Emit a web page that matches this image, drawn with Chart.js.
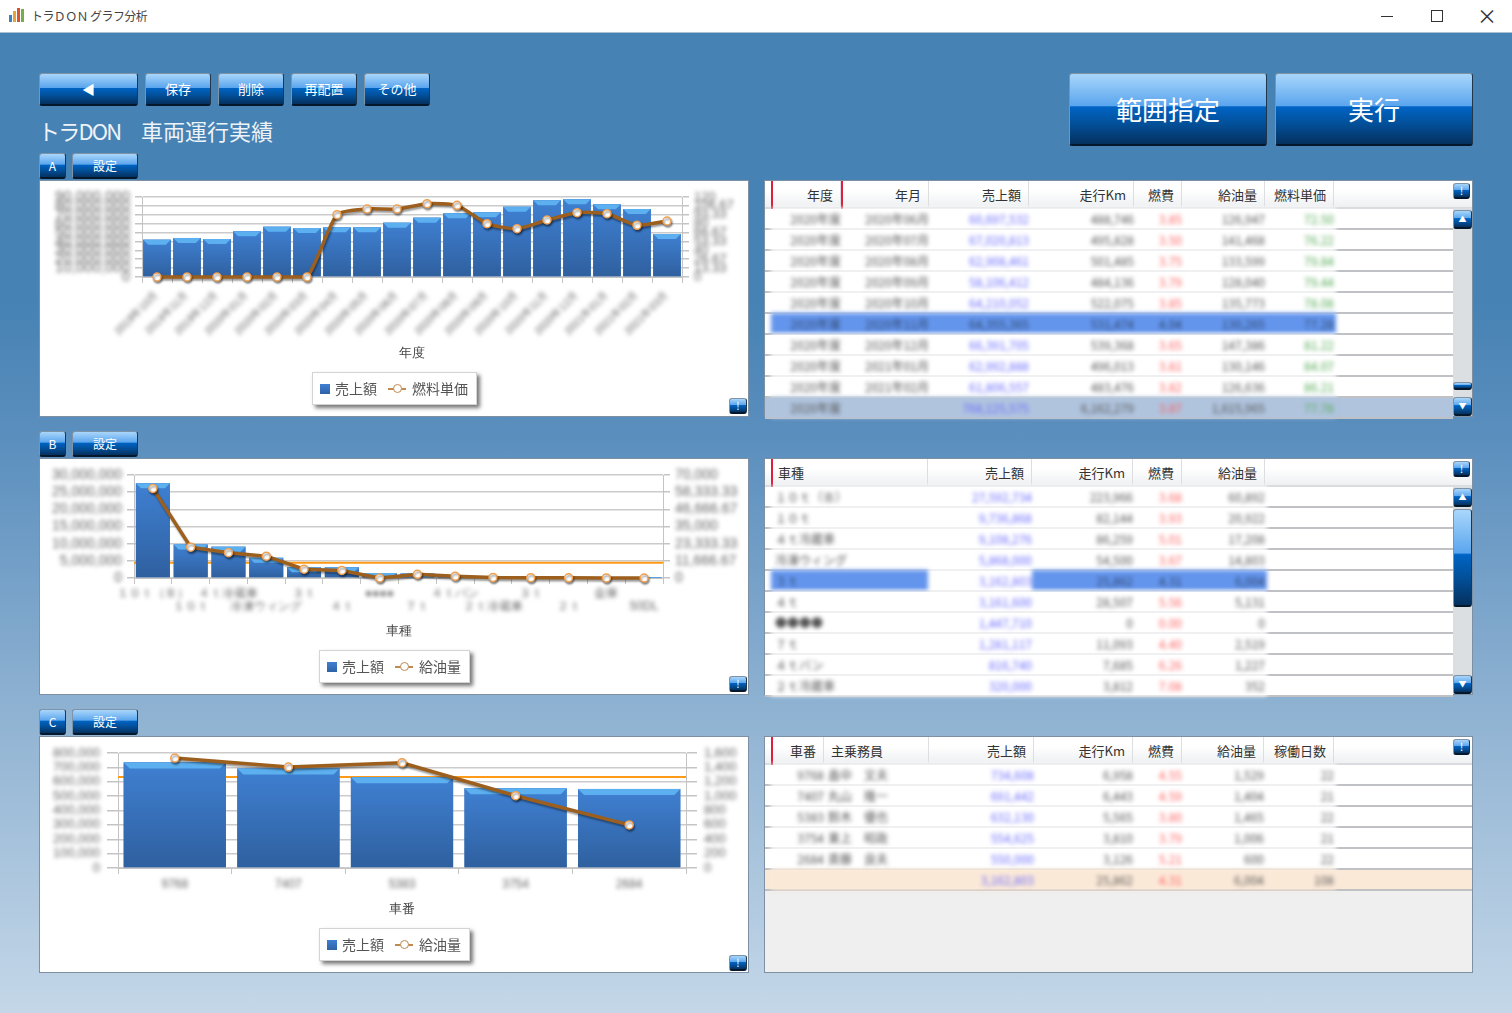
<!DOCTYPE html>
<html lang="ja">
<head>
<meta charset="utf-8">
<title>トラＤＯＮ グラフ分析</title>
<script src="https://cdn.jsdelivr.net/npm/chart.js@4/dist/chart.umd.min.js"></script>
<style>
html,body{margin:0;padding:0;width:1512px;height:1013px;overflow:hidden;font-family:"Noto Sans CJK JP","Noto Sans",sans-serif}
body{position:relative;background:linear-gradient(#4682b4 33px,#4682b4 300px,#5b8fbe 440px,#8fb2d2 710px,#c4d7e8 1013px)}
.abs{position:absolute;box-sizing:border-box}
#titlebar{left:0;top:0;width:1512px;height:33px;background:#fff;color:#444;font-size:12px;line-height:32px;padding-left:31px;letter-spacing:-.6px;border-bottom:1px solid #a9c0d6}
.btn{color:#fff;text-align:center;border-radius:3px;border:1px solid #7f93a6;border-bottom:2px solid #04172b;border-right-color:#20364c;
  background:linear-gradient(#a9d6fb,#5ba6ee 45%,#0064c4 47%,#024f98 72%,#05305e)}
.panel{background:#fff;border:1px solid #7e90a3}
.legend{background:#fff;border:1px solid #d4d4d4;box-shadow:3px 3px 4px #777;color:#555;font-size:14px;white-space:nowrap}
.hdr{background:linear-gradient(#fff,#fff 35%,#eef0f2);border-bottom:2px solid #d9dbde}
.hcell{font-size:13px;color:#333;white-space:nowrap;line-height:28px}
.rowline{background:#bfc1c4;height:2px}
.cell{font-size:12px;white-space:nowrap;line-height:21px;height:20px}
</style>
</head>
<body>
<div class="abs" id="titlebar">トラＤＯＮ グラフ分析</div>
<script>
// ---- chart A
const labelsA = ['2019年10月','2019年11月','2019年12月','2020年01月','2020年02月','2020年03月','2020年04月','2020年05月','2020年06月','2020年07月','2020年08月','2020年09月','2020年10月','2020年11月','2020年12月','2021年01月','2021年02月','2021年03月']
const salesA = [42000000,43900000,42750000,51400000,56600000,55100000,55900000,55900000,61100000,66750000,71600000,72750000,79100000,86250000,87400000,81750000,76500000,48400000]
const priceA = [0,0,0,0,0,0,93.5,102,102,110,107.5,80,72.5,85.5,96.5,95,77.5,84]
const leftTicksA = ['0','10,000,000','20,000,000','30,000,000','40,000,000','50,000,000','60,000,000','70,000,000','80,000,000','90,000,000']
const rightTicksA = ['0','13.33','26.67','40','53.33','66.67','80','93.33','106.67','120']

// ---- chart B
const labelsB = ['１０ｔ（Ｂ）','１０ｔ','４ｔ冷蔵車','冷凍ウィング','３ｔ','４ｔ','●●●●','７ｔ','４ｔバン','２ｔ冷蔵車','３ｔ','２ｔ','金庫','50DL']
const salesB = [27592734,9736868,9108276,5868000,3162803,3161600,1447710,1281117,816740,320000,250000,180000,120000,90000]
const fuelB = [60892,20922,17208,14803,6004,5131,0,2519,1227,352,200,120,60,0]
const leftTicksB = ['0','5,000,000','10,000,000','15,000,000','20,000,000','25,000,000','30,000,000']
const rightTicksB = ['0','11,666.67','23,333.33','35,000','46,666.67','58,333.33','70,000']
const averageB = 4450000

// ---- chart C
const labelsC = ['9768','7407','5383','3754','2684']
const salesC = [734608,691442,632130,554625,550000]
const fuelC = [1529,1404,1465,1006,600]
const leftTicksC = ['0','100,000','200,000','300,000','400,000','500,000','600,000','700,000','800,000']
const rightTicksC = ['0','200','400','600','800','1,000','1,200','1,400','1,600']
const averageC = 632561

// ---- tables
const headersA = ['年度','年月','売上額','走行Km','燃費','給油量','燃料単価']
const rowsA = [
  ['2020年度','2020年06月','60,697,532','488,746','3.85','126,947','72.50'],
  ['2020年度','2020年07月','67,020,813','495,828','3.50','141,468','76.22'],
  ['2020年度','2020年08月','62,908,461','501,485','3.75','133,599','79.84'],
  ['2020年度','2020年09月','58,106,412','484,136','3.79','128,040','79.44'],
  ['2020年度','2020年10月','64,210,052','522,075','3.85','135,773','78.08'],
  ['2020年度','2020年11月','64,355,365','531,474','4.04','130,265','77.28'],
  ['2020年度','2020年12月','66,391,705','539,368','3.65','147,386','81.22'],
  ['2020年度','2021年01月','62,992,888','496,013','3.81','130,146','84.07'],
  ['2020年度','2021年02月','61,806,557','483,476','3.82','126,636','86.21'],
]
const totalA = ['2020年度','','768,125,575','6,162,279','3.87','1,615,965','77.78']

const headersB = ['車種','売上額','走行Km','燃費','給油量']
const rowsB = [
  ['１０ｔ（Ｂ）','27,592,734','223,966','3.68','60,892'],
  ['１０ｔ','9,736,868','82,144','3.93','20,922'],
  ['４ｔ冷蔵車','9,108,276','86,259','5.01','17,208'],
  ['冷凍ウィング','5,868,000','54,500','3.67','14,803'],
  ['３ｔ','3,162,803','25,862','4.31','6,004'],
  ['４ｔ','3,161,600','28,507','5.56','5,131'],
  ['●●●●','1,447,710','0','0.00','0'],
  ['７ｔ','1,281,117','11,093','4.40','2,519'],
  ['４ｔバン','816,740','7,685','6.26','1,227'],
  ['２ｔ冷蔵車','320,000','3,812','7.08','352'],
]

const headersC = ['車番','主乗務員','売上額','走行Km','燃費','給油量','稼働日数']
const rowsC = [
  ['9768','畠中　文夫','734,608','6,958','4.55','1,529','22'],
  ['7407','丸山　隆一','691,442','6,443','4.59','1,404','21'],
  ['5383','鈴木　優也','632,130','5,565','3.80','1,465','22'],
  ['3754','東上　昭政','554,625','3,810','3.79','1,006','21'],
  ['2684','斎藤　良夫','550,000','3,126','5.21','600','22'],
]
const totalC = ['','','3,162,803','25,862','4.31','6,004','108']

function addDiv(cls, x, y, w, h, css, text){
  const d = document.createElement('div')
  d.className = 'abs ' + cls
  d.style.cssText = `left:${x}px;top:${y}px;width:${w}px;height:${h}px;${css||''}`
  if (text !== undefined) d.textContent = text
  document.body.appendChild(d)
  return d
}

function addBtn(text, x, y, w, h, size){
  return addDiv('btn', x, y, w, h, `font-size:${size}px;line-height:${h-3}px`, text)
}

// window chrome
;[['#3f7fc4',9,15,3,7],['#e8a23c',13,11,3,11],['#d9532c',17,8,3,14],['#6fb04a',21,9,3,13]].forEach(b =>
  addDiv('', b[1], b[2], b[3], b[4], 'background:' + b[0]))
addDiv('', 1381, 16, 12, 1, 'background:#333')
addDiv('', 1431, 10, 12, 12, 'border:1px solid #333')
addDiv('', 1477, 6, 20, 20, 'color:#333;font-size:20px;line-height:20px;text-align:center', '×')

// toolbar
addBtn('◀', 39, 73, 99, 33, 13)
addBtn('保存', 145, 73, 66, 33, 13)
addBtn('削除', 218, 73, 66, 33, 13)
addBtn('再配置', 291, 73, 66, 33, 13)
addBtn('その他', 364, 73, 66, 33, 13)
addBtn('範囲指定', 1069, 73, 198, 73, 26)
addBtn('実行', 1275, 73, 198, 73, 26)
addDiv('', 38, 114, 90, 32, 'color:#eef3f8;font-size:22px;line-height:32px;white-space:pre;letter-spacing:-1.8px', 'トラDON')
addDiv('', 141, 114, 140, 32, 'color:#eef3f8;font-size:22px;line-height:32px;white-space:pre', '車両運行実績')

function addLegend(x, y, w, names){
  const box = addDiv('legend', x, y, w, 33)
  box.innerHTML = `<span style="position:absolute;left:7px;top:11px;width:10px;height:10px;background:linear-gradient(#3f80d2,#2f62a5)"></span>
    <span style="position:absolute;left:22px;top:5px">${names[0]}</span>
    <span style="position:absolute;left:75px;top:15px;width:18px;height:2px;background:#c08a50"></span>
    <span style="position:absolute;left:80px;top:11px;width:9px;height:9px;border:1.5px solid #c08a50;border-radius:50%;background:#fff;box-sizing:border-box"></span>
    <span style="position:absolute;left:99px;top:5px">${names[1]}</span>`
}

// bars get a gradient body and a light bevel on top
const barLook = {
  id: 'barLook',
  afterDatasetDraw(chart, args){
    if (args.meta.type !== 'bar') return
    const ctx = chart.ctx
    const bevel = chart.options.plugins.barLook.bevel
    args.meta.data.forEach(bar => {
      const l = bar.x - bar.width / 2, r = bar.x + bar.width / 2
      const grad = ctx.createLinearGradient(0, bar.y, 0, bar.base)
      grad.addColorStop(0, '#3f80d2')
      grad.addColorStop(1, '#2f609f')
      ctx.fillStyle = grad
      ctx.fillRect(l, bar.y, bar.width, bar.base - bar.y)
      const h = Math.min(bevel, bar.base - bar.y)
      ctx.fillStyle = '#5cb0f0'
      ctx.beginPath()
      ctx.moveTo(l, bar.y)
      ctx.lineTo(r, bar.y)
      ctx.lineTo(r - h, bar.y + h)
      ctx.lineTo(l + h, bar.y + h)
      ctx.closePath()
      ctx.fill()
    })
  }
}

// orange mean line behind the bars
const meanLine = {
  id: 'meanLine',
  beforeDatasetsDraw(chart){
    const value = chart.options.plugins.meanLine.value
    if (value === null) return
    const y = chart.scales.y.getPixelForValue(value), a = chart.chartArea
    chart.ctx.save()
    chart.ctx.strokeStyle = '#ff9a16'
    chart.ctx.lineWidth = 2
    chart.ctx.beginPath()
    chart.ctx.moveTo(a.left, y)
    chart.ctx.lineTo(a.right, y)
    chart.ctx.stroke()
    chart.ctx.restore()
  }
}

const lineShadow = {
  id: 'lineShadow',
  beforeDatasetDraw(chart, args){
    if (args.meta.type !== 'line') return
    const ctx = chart.ctx
    ctx.save()
    ctx.shadowColor = 'rgba(0,0,0,.4)'
    ctx.shadowBlur = 2
    ctx.shadowOffsetX = 1
    ctx.shadowOffsetY = 2
  },
  afterDatasetDraw(chart, args){
    if (args.meta.type === 'line') chart.ctx.restore()
  }
}

// axis numbers and codes are blurred in the source picture
const blurTicks = {
  id: 'blurTicks',
  beforeDraw(chart){
    Object.values(chart.scales).forEach(scale => {
      if (scale.blurred) return
      scale.blurred = true
      const draw = scale.drawLabels
      scale.drawLabels = function(area){
        const ctx = this.ctx
        ctx.save()
        ctx.filter = 'blur(2px)'
        draw.call(this, area)
        ctx.restore()
      }
    })
  }
}

function addChart(cfg){
  addDiv('panel', cfg.x, cfg.y, 710, 237)
  const canvas = document.createElement('canvas')
  canvas.className = 'abs'
  canvas.width = 708
  canvas.height = 235
  canvas.style.cssText = `left:${cfg.x+1}px;top:${cfg.y+1}px;width:708px;height:235px`
  document.body.appendChild(canvas)

  const yAxis = (ticks, opts, side) => ({
    position: side,
    min: 0,
    max: opts.max,
    grid: { color: '#cbcbcb', lineWidth: 1.5, tickLength: cfg.tickLen, tickColor: '#c4c4c4', drawOnChartArea: side === 'left' },
    border: { color: '#c4c4c4' },
    ticks: { count: ticks.length, autoSkip: false, padding: cfg.tickPad, color: '#666', font: { size: opts.size },
      callback: (v, i) => ticks[i] },
    afterFit: s => { s.width = opts.width },
  })

  return new Chart(canvas, {
    type: 'bar',
    data: {
      labels: cfg.labels,
      datasets: [
        { type: 'bar', label: '売上額', data: cfg.bars, yAxisID: 'y', order: 1, backgroundColor: '#3a74bd',
          barPercentage: cfg.barPct, categoryPercentage: 1 },
        { type: 'line', label: cfg.lineName, data: cfg.line, yAxisID: 'y2', order: 0, clip: false,
          borderColor: '#9c5f1e', borderWidth: 3.5, tension: cfg.tension,
          pointRadius: 4, pointBorderWidth: 1.5, pointBackgroundColor: '#fff', pointBorderColor: '#f0a050' },
      ],
    },
    options: {
      responsive: false,
      animation: false,
      devicePixelRatio: 1,
      layout: { padding: { top: cfg.top, bottom: cfg.bottom, left: 0, right: 0 } },
      plugins: {
        legend: { display: false },
        tooltip: { enabled: false },
        barLook: { bevel: cfg.bevel },
        meanLine: { value: cfg.mean },
      },
      scales: {
        x: {
          grid: { drawOnChartArea: false, tickLength: 6, tickColor: '#c4c4c4' },
          border: { color: '#c4c4c4' },
          title: { display: true, text: cfg.axisTitle, color: '#444', font: { size: 13 } },
          ticks: Object.assign({ autoSkip: false, color: '#666', font: { size: cfg.xSize, lineHeight: 1.1 } }, cfg.xTicks),
          afterFit: s => { s.height = cfg.xHeight },
        },
        y: yAxis(cfg.leftTicks, { max: cfg.leftMax, width: cfg.leftW, size: cfg.leftSize }, 'left'),
        y2: yAxis(cfg.rightTicks, { max: cfg.rightMax, width: cfg.rightW, size: cfg.rightSize }, 'right'),
      },
    },
    plugins: [barLook, meanLine, lineShadow, blurTicks],
  })
}

addChart({ x: 39, y: 180, labels: labelsA, bars: salesA, line: priceA, lineName: '燃料単価', axisTitle: '年度',
  leftTicks: leftTicksA, rightTicks: rightTicksA, leftMax: 90000000, rightMax: 120, mean: null, tension: .2,
  leftW: 102, rightW: 66, top: 16, bottom: 51, xHeight: 88, barPct: .92, bevel: 5, tickLen: 7, tickPad: 5, xSize: 10.5,
  leftSize: 15, rightSize: 13,
  xTicks: { minRotation: 45, maxRotation: 45, padding: 6 } })
addChart({ x: 39, y: 458, labels: labelsB, bars: salesB, line: fuelB, lineName: '給油量', axisTitle: '車種',
  leftTicks: leftTicksB, rightTicks: rightTicksB, leftMax: 30000000, rightMax: 70000, mean: averageB, tension: 0,
  leftW: 94, rightW: 85, top: 16, bottom: 51, xHeight: 65, barPct: .9, bevel: 5, tickLen: 7, tickPad: 5, xSize: 12,
  leftSize: 14, rightSize: 14,
  xTicks: { maxRotation: 0, minRotation: 0, padding: 3, callback(v, i){ const t = labelsB[i]; return i % 2 ? ['', t] : t } } })
addChart({ x: 39, y: 736, labels: labelsC, bars: salesC, line: fuelC, lineName: '給油量', axisTitle: '車番',
  leftTicks: leftTicksC, rightTicks: rightTicksC, leftMax: 800000, rightMax: 1600, mean: averageC, tension: 0,
  leftW: 78, rightW: 62, top: 16, bottom: 51, xHeight: 53, barPct: .9, bevel: 6, tickLen: 11, tickPad: 7, xSize: 12,
  leftSize: 13, rightSize: 13,
  xTicks: { maxRotation: 0, minRotation: 0, padding: 4 } })

addLegend(312, 372, 165, ['売上額', '燃料単価'])
addLegend(319, 650, 151, ['売上額', '給油量'])
addLegend(319, 928, 151, ['売上額', '給油量'])

// tables
function addTable(t){
  addDiv('panel', 764, t.y, 709, 237, 'background:' + t.bg)
  addDiv('hdr', 765, t.y + 1, 707, 28)
  const edges = t.edges
  t.headers.forEach((h, c) => {
    const l = edges[c], r = edges[c + 1]
    const left = t.align[c] === 'l'
    addDiv('hcell', l, t.y + 1, r - l, 28,
      `text-align:${left ? 'left' : 'right'};padding:0 7px 0 ${left ? 7 : 0}px;border-right:1px solid #dcdee1`, h)
  })
  t.reds.forEach(x => addDiv('', x, t.y + 1, 2, 28, 'background:#dc1f3f'))

  const band = (row, top, fill, selected) => {
    addDiv('', 765, top, t.lineEnd - 765, 19, 'background:' + (fill === '#fff' ? '#fff' : fill))
    addDiv('rowline', 765, top + 19, t.lineEnd - 765, 2)
    const holder = addDiv('', edges[0], top - 1, edges[edges.length - 1] - edges[0] + 2, 21, 'filter:blur(2px)')
    row.forEach((text, c) => {
      const cell = document.createElement('div')
      const keep = selected && c === t.keepCell
      cell.className = 'abs cell'
      cell.style.cssText = `left:${edges[c] - edges[0]}px;top:0;width:${edges[c + 1] - edges[c] + 2}px;height:21px;
        text-align:${t.align[c] === 'l' ? 'left' : 'right'};padding:0 2px 0 ${t.align[c] === 'l' ? 4 : 0}px;
        background:${keep ? '#fff' : selected ? '#6495ed' : fill};color:${selected && !keep ? '#2c4468' : t.colors[c]}`
      cell.textContent = text
      holder.appendChild(cell)
    })
  }

  t.rows.forEach((row, i) => {
    band(row, t.y + 29 + i * 21, '#fff', i === t.selected)
  })
  if (t.total){
    const top = t.y + 29 + t.rows.length * 21
    band(t.total, top, t.totalBg, false)
  }
  addBtn('!', 1453, t.y + 3, 17, 16, 11)
  if (t.scroll){
    addDiv('', 1453, t.y + 28, 19, 208, 'background:#dcdfe2')
    addBtn('▲', 1453, t.y + 30, 19, 19, 8)
    addBtn('▼', 1453, t.y + 217, 19, 19, 8)
    addBtn('', 1453, t.y + t.scroll[0], 19, t.scroll[1], 8)
  }
}

const textColors = { gray: '#555', blue: '#6a6aff', red: '#ff6060', green: '#55aa55' }
addTable({ y: 180, bg: '#fff', headers: headersA, rows: rowsA, total: totalA, totalBg: '#b0c4de', selected: 5, keepCell: -1,
  edges: [771, 841, 929, 1029, 1134, 1182, 1265, 1334], align: 'rrrrrrr', reds: [771, 841], lineEnd: 1453, scroll: [202, 8],
  colors: [textColors.gray, textColors.gray, textColors.blue, textColors.gray, textColors.red, textColors.gray, textColors.green] })
addTable({ y: 458, bg: '#fff', headers: headersB, rows: rowsB, total: null, selected: 4, keepCell: 1,
  edges: [771, 928, 1032, 1133, 1182, 1265], align: 'lrrrr', reds: [771], lineEnd: 1453, scroll: [51, 98],
  colors: [textColors.gray, textColors.blue, textColors.gray, textColors.red, textColors.gray] })
addTable({ y: 736, bg: '#efefef', headers: headersC, rows: rowsC, total: totalC, totalBg: '#fbe9d8', selected: -1, keepCell: -1,
  edges: [771, 824, 929, 1034, 1133, 1182, 1264, 1334], align: 'rlrrrrr', reds: [771], lineEnd: 1472, scroll: null,
  colors: [textColors.gray, textColors.gray, textColors.blue, textColors.gray, textColors.red, textColors.gray, textColors.gray] })

addBtn('設定', 72, 153, 66, 26, 12); addBtn('A', 39, 153, 27, 26, 12)
addBtn('設定', 72, 431, 66, 26, 12); addBtn('B', 39, 431, 27, 26, 12)
addBtn('設定', 72, 709, 66, 26, 12); addBtn('C', 39, 709, 27, 26, 12)
addBtn('!', 729, 398, 18, 16, 11)
addBtn('!', 729, 676, 18, 16, 11)
addBtn('!', 729, 955, 18, 16, 11)
</script>
</body>
</html>
